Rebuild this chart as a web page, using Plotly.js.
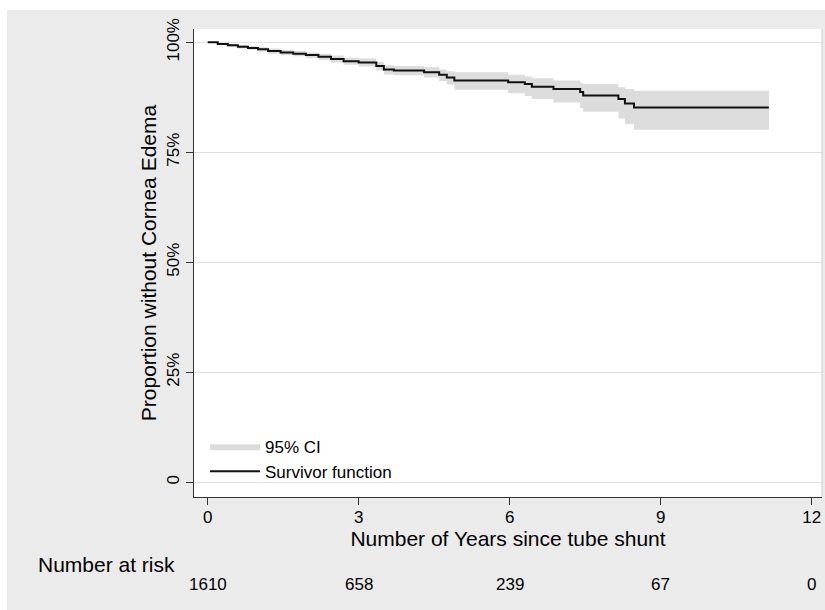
<!DOCTYPE html>
<html>
<head>
<meta charset="utf-8">
<script src="https://cdn.plot.ly/plotly-3.0.1.min.js"></script>
<style>
html,body{margin:0;padding:0;background:#ffffff;}
#chart{position:absolute;left:7px;top:10px;width:818px;height:600px;}
</style>
</head>
<body>
<div id="chart"></div>
<script>
// Kaplan-Meier step points
const times = [0,0.2,0.4,0.6,0.8,1.0,1.2,1.45,1.7,1.95,2.2,2.45,2.7,3.0,3.35,3.5,3.7,4.3,4.6,4.75,4.9,5.97,6.3,6.44,6.87,7.40,7.46,8.16,8.29,8.47,11.15];
const survival = [1.000,0.996,0.993,0.990,0.987,0.984,0.980,0.977,0.974,0.971,0.967,0.962,0.957,0.954,0.946,0.938,0.936,0.932,0.926,0.920,0.913,0.909,0.905,0.899,0.894,0.887,0.879,0.871,0.861,0.852,0.852];
const ciUpper = [1.000,0.998,0.996,0.994,0.991,0.989,0.986,0.983,0.980,0.977,0.974,0.970,0.965,0.963,0.955,0.948,0.946,0.943,0.938,0.934,0.932,0.926,0.922,0.918,0.913,0.908,0.905,0.898,0.894,0.890,0.890];
const ciLower = [1.000,0.994,0.990,0.986,0.983,0.979,0.974,0.971,0.968,0.964,0.960,0.954,0.949,0.945,0.936,0.927,0.925,0.920,0.912,0.904,0.892,0.884,0.878,0.871,0.863,0.850,0.842,0.827,0.814,0.801,0.801];

// axes
const xTickVals = [0,3,6,9,12];
const yTickVals = [0,0.25,0.5,0.75,1];
const yTickText = ['0','25%','50%','75%','100%'];

// number at risk
const riskTimes = [0,3,6,9,12];
const riskCounts = [1610,658,239,67,0];

const FONT = 'Liberation Sans, Arial, sans-serif';
const bandColor = '#dcdcdc';

const traces = [
  {x: times, y: ciLower, type: 'scatter', mode: 'lines', line: {shape: 'hv', width: 0, color: bandColor},
   showlegend: false, hoverinfo: 'skip'},
  {x: times, y: ciUpper, type: 'scatter', mode: 'lines', line: {shape: 'hv', width: 0, color: bandColor},
   fill: 'tonexty', fillcolor: bandColor, name: '95% CI'},
  {x: times, y: survival, type: 'scatter', mode: 'lines', line: {shape: 'hv', width: 2, color: '#111111'},
   name: 'Survivor function'}
];

const annotations = [{
  text: 'Number at risk', xref: 'paper', yref: 'paper', x: -0.027, y: -0.145,
  xanchor: 'right', yanchor: 'middle', showarrow: false, font: {family: FONT, size: 21, color: '#000'}
}];
riskTimes.forEach((t, i) => {
  annotations.push({
    text: String(riskCounts[i]), xref: 'x', yref: 'paper', x: t, y: -0.186,
    xanchor: 'center', yanchor: 'middle', showarrow: false, font: {family: FONT, size: 17, color: '#000'}
  });
});

const layout = {
  width: 818, height: 600,
  margin: {l: 187, r: 3, t: 19, b: 113},
  paper_bgcolor: '#ebebeb',
  plot_bgcolor: '#ffffff',
  font: {family: FONT, color: '#000'},
  showlegend: true,
  legend: {x: 0.0175, y: 0.0157, xanchor: 'left', yanchor: 'bottom', bgcolor: 'rgba(0,0,0,0)',
           itemwidth: 50,
           font: {family: FONT, size: 17, color: '#000'}, traceorder: 'normal'},
  xaxis: {
    range: [-0.272, 12.205], tickvals: xTickVals, ticks: 'outside', ticklen: 7, tickcolor: '#333',
    showline: true, linecolor: '#333', linewidth: 1.2, showgrid: false, zeroline: false,
    ticklabelstandoff: -3,
    tickfont: {family: FONT, size: 17, color: '#000'},
    title: {text: 'Number of Years since tube shunt', font: {family: FONT, size: 21, color: '#000'}, standoff: 1}
  },
  yaxis: {
    range: [-0.0334, 1.0302], tickvals: yTickVals, ticktext: yTickText, tickangle: -90,
    ticks: 'outside', ticklen: 7, tickcolor: '#333',
    showline: true, linecolor: '#333', linewidth: 1.2, showgrid: true, gridcolor: '#e0e0e0', gridwidth: 1,
    zeroline: false, tickfont: {family: FONT, size: 17, color: '#000'},
    title: {text: 'Proportion without Cornea Edema', font: {family: FONT, size: 21, color: '#000'}, standoff: 1}
  },
  shapes: [{type: 'line', xref: 'paper', yref: 'paper', x0: 1, x1: 1, y0: 0, y1: 1,
            line: {color: '#d0d0d0', width: 1}}],
  annotations: annotations
};

Plotly.newPlot('chart', traces, layout, {displayModeBar: false, staticPlot: true});
</script>
</body>
</html>
